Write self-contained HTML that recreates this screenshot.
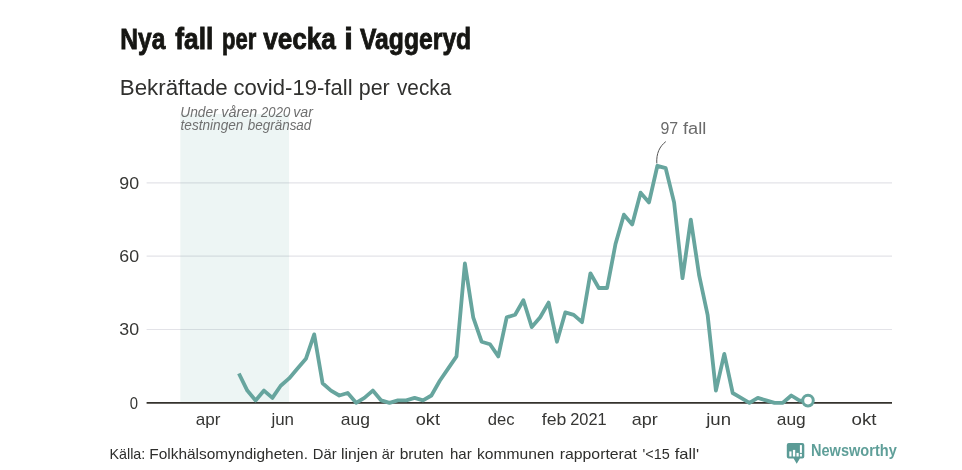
<!DOCTYPE html>
<html lang="sv">
<head>
<meta charset="utf-8">
<title>Nya fall per vecka i Vaggeryd</title>
<style>
html,body{margin:0;padding:0;background:#fff;}
body{width:962px;height:470px;overflow:hidden;}
svg{display:block;font-family:"Liberation Sans",sans-serif;}
.grid line{stroke:#e3e3e8;stroke-width:1.2;}
</style>
</head>
<body>
<svg width="962" height="470" viewBox="0 0 962 470">
<rect width="962" height="470" fill="#ffffff"/>
<text y="49.4" font-size="30.4" font-weight="bold" fill="#161613" stroke="#161613" stroke-width="0.9"><tspan x="120.25" textLength="45.06" lengthAdjust="spacingAndGlyphs">Nya</tspan> <tspan x="175.25" textLength="38.02" lengthAdjust="spacingAndGlyphs">fall</tspan> <tspan x="222.00" textLength="34.26" lengthAdjust="spacingAndGlyphs">per</tspan> <tspan x="263.25" textLength="72.61" lengthAdjust="spacingAndGlyphs">vecka</tspan> <tspan x="344.25" textLength="8.55" lengthAdjust="spacingAndGlyphs">i</tspan> <tspan x="360.00" textLength="111.22" lengthAdjust="spacingAndGlyphs">Vaggeryd</tspan></text>
<text y="94.6" font-size="21.6" fill="#30302e"><tspan x="119.75" textLength="107.97" lengthAdjust="spacingAndGlyphs">Bekräftade</tspan> <tspan x="233.50" textLength="119.05" lengthAdjust="spacingAndGlyphs">covid-19-fall</tspan> <tspan x="358.75" textLength="31.02" lengthAdjust="spacingAndGlyphs">per</tspan> <tspan x="397.00" textLength="54.18" lengthAdjust="spacingAndGlyphs">vecka</tspan></text>
<g class="grid">
<line x1="146.6" x2="892" y1="329.5" y2="329.5"/>
<line x1="146.6" x2="892" y1="256.2" y2="256.2"/>
<line x1="146.6" x2="892" y1="182.9" y2="182.9"/>
</g>
<rect x="180.3" y="114.0" width="108.8" height="288.8" fill="#5aa69d" fill-opacity="0.11"/>
<text y="116.8" font-size="14.1" font-style="italic" fill="#6f6f6f"><tspan x="180.25" textLength="37.52" lengthAdjust="spacingAndGlyphs">Under</tspan> <tspan x="221.25" textLength="35.97" lengthAdjust="spacingAndGlyphs">våren</tspan> <tspan x="261.09" textLength="29.13" lengthAdjust="spacingAndGlyphs">2020</tspan> <tspan x="293.25" textLength="19.73" lengthAdjust="spacingAndGlyphs">var</tspan></text>
<text y="130.1" font-size="14.1" font-style="italic" fill="#6f6f6f"><tspan x="180.50" textLength="62.97" lengthAdjust="spacingAndGlyphs">testningen</tspan> <tspan x="247.75" textLength="63.56" lengthAdjust="spacingAndGlyphs">begränsad</tspan></text>
<line x1="146.6" x2="892" y1="402.9" y2="402.9" stroke="#35322d" stroke-width="1.7"/>
<polyline points="238.9,373.5 247.3,390.6 255.6,400.4 264.0,390.6 272.4,397.9 280.7,385.7 289.1,378.4 297.5,368.6 305.9,358.8 314.2,334.4 322.6,383.3 331.0,390.6 339.3,395.5 347.7,393.0 356.1,402.8 364.4,397.9 372.8,390.6 381.2,400.4 389.5,402.8 397.9,400.4 406.3,400.4 414.6,397.9 423.0,400.4 431.4,395.5 439.8,380.8 448.1,368.6 456.5,356.4 464.9,263.5 473.2,317.3 481.6,341.7 490.0,344.2 498.3,356.4 506.7,317.3 515.1,314.8 523.4,300.2 531.8,327.1 540.2,317.3 548.6,302.6 556.9,341.7 565.3,312.4 573.7,314.8 582.0,322.2 590.4,273.3 598.8,288.0 607.1,288.0 615.5,244.0 623.9,214.7 632.2,224.4 640.6,192.7 649.0,202.4 657.4,165.8 665.7,168.2 674.1,202.4 682.5,278.2 690.8,219.6 699.2,275.7 707.6,314.8 715.9,390.6 724.3,353.9 732.7,393.0 741.0,397.9 749.4,402.8 757.8,397.9 766.1,400.4 774.5,402.8 782.9,402.8 791.3,395.5 799.6,400.7 808.0,400.6" fill="none" stroke="#67a59e" stroke-width="3.8" stroke-linejoin="round" stroke-linecap="butt"/>
<circle cx="808.0" cy="400.6" r="5.3" fill="#ffffff" stroke="#67a59e" stroke-width="3.0"/>
<path d="M656.8,163.4 C656.2,153.5 659.5,146.5 665.8,141.6" fill="none" stroke="#555555" stroke-width="1"/>
<text y="133.5" font-size="15.6" fill="#6b6b6b"><tspan x="660.50" textLength="17.70" lengthAdjust="spacingAndGlyphs">97</tspan> <tspan x="683.00" textLength="23.30" lengthAdjust="spacingAndGlyphs">fall</tspan></text>
<text y="408.7" font-size="16.4" fill="#363634"><tspan x="129.75" textLength="8.27" lengthAdjust="spacingAndGlyphs">0</tspan></text>
<text y="335.4" font-size="16.4" fill="#363634"><tspan x="119.25" textLength="19.79" lengthAdjust="spacingAndGlyphs">30</tspan></text>
<text y="262.1" font-size="16.4" fill="#363634"><tspan x="119.25" textLength="19.79" lengthAdjust="spacingAndGlyphs">60</tspan></text>
<text y="188.8" font-size="16.4" fill="#363634"><tspan x="119.25" textLength="19.79" lengthAdjust="spacingAndGlyphs">90</tspan></text>
<text y="425.0" font-size="16.4" fill="#363634"><tspan x="195.75" textLength="24.75" lengthAdjust="spacingAndGlyphs">apr</tspan> <tspan x="271.41" textLength="22.57" lengthAdjust="spacingAndGlyphs">jun</tspan> <tspan x="340.75" textLength="29.21" lengthAdjust="spacingAndGlyphs">aug</tspan> <tspan x="415.75" textLength="24.22" lengthAdjust="spacingAndGlyphs">okt</tspan> <tspan x="487.75" textLength="26.79" lengthAdjust="spacingAndGlyphs">dec</tspan> <tspan x="541.75" textLength="24.50" lengthAdjust="spacingAndGlyphs">feb</tspan> <tspan x="570.25" textLength="36.48" lengthAdjust="spacingAndGlyphs">2021</tspan> <tspan x="631.75" textLength="26.00" lengthAdjust="spacingAndGlyphs">apr</tspan> <tspan x="706.20" textLength="24.78" lengthAdjust="spacingAndGlyphs">jun</tspan> <tspan x="776.75" textLength="28.96" lengthAdjust="spacingAndGlyphs">aug</tspan> <tspan x="851.50" textLength="24.97" lengthAdjust="spacingAndGlyphs">okt</tspan></text>
<text y="458.8" font-size="14.8" fill="#2e2e2c"><tspan x="109.50" textLength="35.77" lengthAdjust="spacingAndGlyphs">Källa:</tspan> <tspan x="149.25" textLength="158.75" lengthAdjust="spacingAndGlyphs">Folkhälsomyndigheten.</tspan> <tspan x="312.75" textLength="23.80" lengthAdjust="spacingAndGlyphs">Där</tspan> <tspan x="341.00" textLength="36.70" lengthAdjust="spacingAndGlyphs">linjen</tspan> <tspan x="381.75" textLength="12.96" lengthAdjust="spacingAndGlyphs">är</tspan> <tspan x="399.75" textLength="43.96" lengthAdjust="spacingAndGlyphs">bruten</tspan> <tspan x="450.00" textLength="21.74" lengthAdjust="spacingAndGlyphs">har</tspan> <tspan x="477.00" textLength="77.26" lengthAdjust="spacingAndGlyphs">kommunen</tspan> <tspan x="559.75" textLength="77.25" lengthAdjust="spacingAndGlyphs">rapporterat</tspan> <tspan x="642.50" textLength="27.28" lengthAdjust="spacingAndGlyphs">'&lt;15</tspan> <tspan x="674.75" textLength="24.30" lengthAdjust="spacingAndGlyphs">fall'</tspan></text>
<g>
<path d="M788.8,443.1 H802.3 a2,2 0 0 1 2,2 V456.6 a2,2 0 0 1 -2,2 H799.9 L796.7,463.7 L793.6,458.6 H788.8 a2,2 0 0 1 -2,-2 V445.1 a2,2 0 0 1 2,-2 Z" fill="#5b9b96"/>
<rect x="789.3" y="451.4" width="2.2" height="5.1" fill="#ffffff"/>
<rect x="792.9" y="449.9" width="2.3" height="6.6" fill="#ffffff"/>
<rect x="796.5" y="452.9" width="2.2" height="3.6" fill="#ffffff"/>
<rect x="799.9" y="445.1" width="2.0" height="7.8" fill="#ffffff"/>
<rect x="799.9" y="453.9" width="2.0" height="2.6" fill="#ffffff"/>
<text y="455.9" font-size="16.4" font-weight="bold" fill="#5f9f99"><tspan x="811.00" textLength="85.75" lengthAdjust="spacingAndGlyphs">Newsworthy</tspan></text>
</g>
</svg>
</body>
</html>
